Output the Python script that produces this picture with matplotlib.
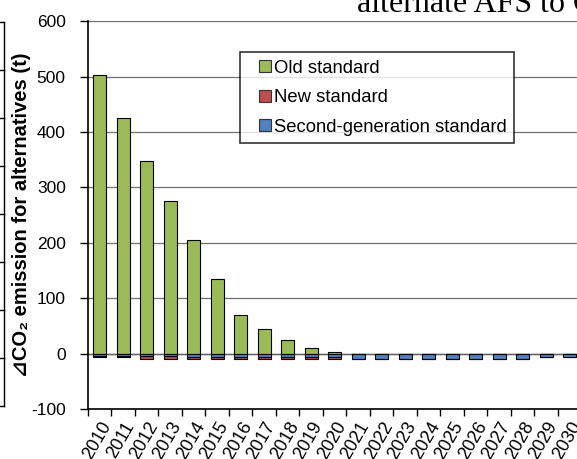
import numpy as np
import matplotlib
matplotlib.use("Agg")
import matplotlib.pyplot as plt
from matplotlib.lines import Line2D

plt.rcParams['font.family'] = ['Liberation Sans', 'DejaVu Sans']

years = [str(y) for y in range(2010, 2031)]
old_std = [503, 425, 348, 275, 205, 135, 70, 45, 25, 10, 3,
           0, 0, 0, 0, 0, 0, 0, 0, 0, 0]
second_gen = [-4, -4, -4, -4, -6, -6, -6, -6, -6, -6, -6,
              -9, -9, -9, -9, -9, -9, -9, -9, -7, -7]
new_std = [-3, -3, -5, -5, -3, -3, -3, -3, -3, -3, -3,
           0, 0, 0, 0, 0, 0, 0, 0, 0, 0]
yticks = [-100, 0, 100, 200, 300, 400, 500, 600]
series_names = ['Old standard', 'New standard', 'Second-generation standard']
series_colors = ['#9BBB59', '#C0504D', '#4F81BD']

fig = plt.figure(figsize=(5.77, 4.59), dpi=100)
ax = fig.add_axes([0.1525, 0.109, 0.855, 0.845])

x = np.arange(len(years))
w = 0.55
ax.bar(x, old_std, w, color=series_colors[0], edgecolor='black',
       linewidth=0.8, zorder=3)
ax.bar(x, new_std, w, bottom=second_gen, color=series_colors[1],
       edgecolor='black', linewidth=0.8, zorder=3)
ax.bar(x, second_gen, w, color=series_colors[2], edgecolor='black',
       linewidth=0.8, zorder=3)

ax.set_ylim(-100, 600)
ax.set_xlim(-0.5, len(years) - 0.5)
ax.set_yticks(yticks)
ax.set_yticklabels([str(v) for v in yticks], fontsize=12.5)
ax.yaxis.grid(True, color='#707070', linewidth=0.9, zorder=0)
ax.axhline(0, color='#606060', linewidth=1.0, zorder=2)

# category boundary ticks, labels at category centers
ax.set_xticks(np.arange(len(years) + 1) - 0.5)
ax.set_xticklabels([])
ax.set_xticks(x, minor=True)
ax.set_xticklabels(years, minor=True, rotation=60, ha='right',
                   rotation_mode='anchor', fontsize=13)
ax.tick_params(axis='x', which='minor', length=0, pad=7)
ax.tick_params(axis='x', which='major', direction='out', length=5, width=1)
ax.tick_params(axis='y', direction='out', length=6, width=1, pad=10)

for s in ['top', 'right']:
    ax.spines[s].set_visible(False)
ax.spines['left'].set_linewidth(1.2)
ax.spines['bottom'].set_linewidth(1.2)

ax.set_ylabel('⊿CO₂ emission for alternatives (t)',
              fontsize=14.5, fontweight='bold', labelpad=0)

handles = [Line2D([], [], marker='s', linestyle='none', markersize=8,
                  markerfacecolor=c, markeredgecolor='#333333',
                  markeredgewidth=0.8) for c in series_colors]
leg = ax.legend(handles, series_names, loc='upper left',
                bbox_to_anchor=(0.308, 0.92), fontsize=13.3,
                frameon=True, fancybox=False, edgecolor='black',
                handlelength=1.9, handletextpad=-0.45,
                labelspacing=0.68, borderpad=0.4, borderaxespad=0)
leg.get_frame().set_linewidth(1.2)

# cropped title from the source page and the neighbouring chart edge
fig.text(0.619, 0.973, 'alternate AFS to G', fontsize=23,
         family='Liberation Serif', va='baseline', ha='left')
fig.add_artist(Line2D([0.007, 0.007], [0.115, 0.952], color='black',
                      linewidth=1, transform=fig.transFigure))
for yy in np.linspace(0.115, 0.952, 9):
    fig.add_artist(Line2D([0.0, 0.007], [yy, yy], color='black',
                          linewidth=1, transform=fig.transFigure))

fig.savefig('out.png', dpi=100)
